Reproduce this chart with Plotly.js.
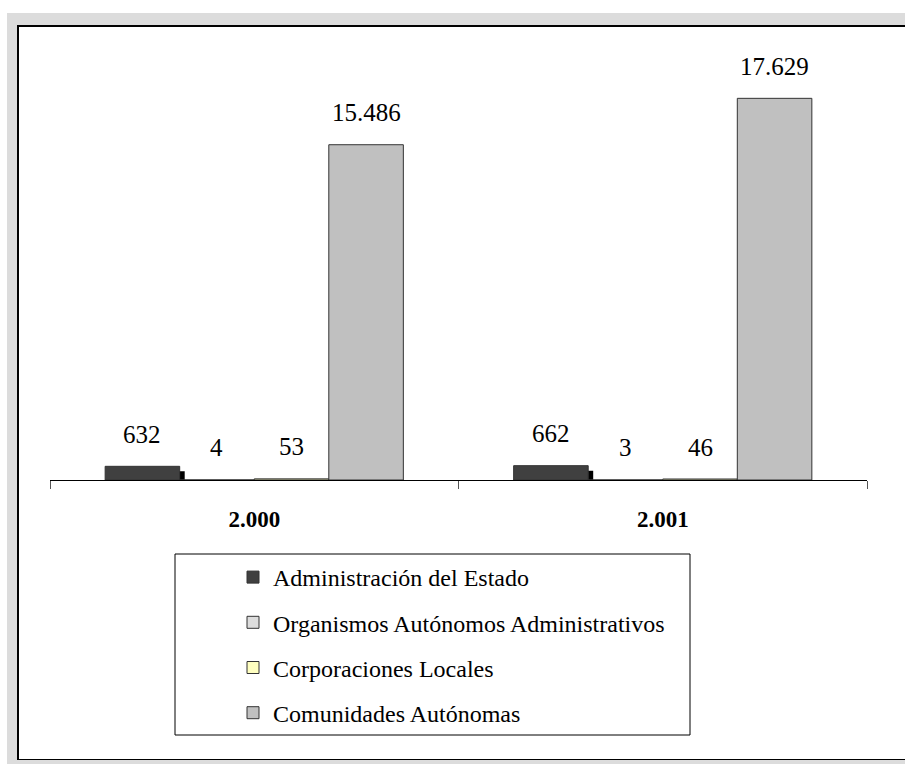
<!DOCTYPE html>
<html>
<head>
<meta charset="utf-8">
<script src="https://cdn.plot.ly/plotly-3.0.1.min.js"></script>
<style>
  html, body { margin: 0; padding: 0; background: #ffffff; overflow: hidden; width: 905px; height: 764px; }
  #frame { position: absolute; left: 7px; top: 13px; width: 898px; height: 751px; background: #dcdcdc; }
  #sheet { position: absolute; left: 17px; top: 25px; width: 888px; height: 735px; background: #ffffff;
           border-top: 2px solid #000; border-left: 2px solid #000; border-bottom: 1px solid #000; box-sizing: border-box; }
  #chart { position: absolute; left: 0; top: 0; width: 905px; height: 764px; }
</style>
</head>
<body>
<div id="frame"></div>
<div id="sheet"></div>
<div id="chart"></div>
<script>
// Years on the category axis
const years = ['2.000', '2.001'];

// Series names and values (one value per year)
const seriesNames = [
  'Administración del Estado',
  'Organismos Autónomos Administrativos',
  'Corporaciones Locales',
  'Comunidades Autónomas'
];
const adminEstado   = [632, 662];
const organismos    = [4, 3];
const corporaciones = [53, 46];
const comunidades   = [15486, 17629];

const seriesValues = [adminEstado, organismos, corporaciones, comunidades];
const seriesColors = ['#404040', '#dddddd', '#ffffc0', '#c0c0c0'];

// Geometry of the plotting area
const W = 905, H = 764;
const M = { l: 50, r: 38, t: 47, b: 284 };
const Y_MAX = 20000;
const BARGAP = 0.27;
const X_RANGE = [-0.5, 1.5];
const PW = W - M.l - M.r, PH = H - M.t - M.b;
const PPX = PW / (X_RANGE[1] - X_RANGE[0]);
const PPY = PH / Y_MAX;
const SHADOW = 5;                                  // drop shadow offset, px
const SLOT = (1 - BARGAP) / seriesValues.length;   // width of one bar, category units
const FIRST = -(1 - BARGAP) / 2;                   // left edge of the first bar

const FONT = 'serif';

// page pixel -> paper coordinate
const px = x => (x - M.l) / PW;
const py = y => (H - M.b - y) / PH;

// Thousands separator with a dot
function fmt(v) {
  return String(v).replace(/\B(?=(\d{3})+(?!\d))/g, '.');
}

const traces = [];

// Drop shadow of the dark series, drawn on a slightly shifted pair of axes underneath
traces.push({
  type: 'bar',
  x: years,
  y: adminEstado,
  xaxis: 'x', yaxis: 'y',
  width: SLOT,
  offset: FIRST,
  marker: { color: '#000000', line: { width: 0 } },
  showlegend: false,
  hoverinfo: 'skip'
});

// The four series
seriesValues.forEach((vals, i) => {
  traces.push({
    type: 'bar',
    name: seriesNames[i],
    x: years,
    y: vals,
    xaxis: 'x2', yaxis: 'y2',
    legendgroup: 'g' + i,
    marker: { color: seriesColors[i], line: { color: '#333333', width: 1 } }
  });
});

// Value labels above every bar
const annotations = [];
seriesValues.forEach((vals, i) => {
  vals.forEach((v, j) => {
    annotations.push({
      xref: 'x2', yref: 'y2',
      x: j, y: v,
      text: fmt(v),
      showarrow: false,
      xanchor: 'center', yanchor: 'middle',
      xshift: (FIRST + SLOT * (i + 0.5)) * PPX,
      yshift: 32,
      font: { family: FONT, size: 25, color: '#000000' }
    });
  });
});

const layout = {
  width: W, height: H,
  margin: M,
  paper_bgcolor: 'rgba(0,0,0,0)',
  plot_bgcolor: 'rgba(0,0,0,0)',
  barmode: 'group',
  bargap: BARGAP,
  bargroupgap: 0,
  font: { family: FONT, color: '#000000' },
  // shadow axes: the visible axes shifted right and down by SHADOW px
  xaxis: {
    type: 'category',
    range: [X_RANGE[0] - SHADOW / PPX, X_RANGE[1] - SHADOW / PPX],
    visible: false, fixedrange: true
  },
  yaxis: {
    range: [SHADOW / PPY, Y_MAX + SHADOW / PPY],
    visible: false, fixedrange: true
  },
  xaxis2: {
    type: 'category',
    overlaying: 'x', anchor: 'y2', side: 'bottom',
    range: X_RANGE,
    showline: true, linecolor: '#000000', linewidth: 1,
    ticks: 'outside', tickson: 'boundaries', ticklen: 8, tickcolor: '#555555', tickwidth: 1,
    ticklabelstandoff: 18,
    showgrid: false, zeroline: false,
    tickfont: { family: FONT, size: 23, weight: 'bold', color: '#000000' },
    fixedrange: true
  },
  yaxis2: {
    overlaying: 'y', anchor: 'x2',
    range: [0, Y_MAX],
    visible: false, showgrid: false, zeroline: false, fixedrange: true
  },
  // legend frame
  shapes: [{
    type: 'rect', xref: 'paper', yref: 'paper',
    x0: px(175), x1: px(690), y0: py(554), y1: py(735),
    line: { color: '#000000', width: 1 }, fillcolor: '#ffffff', layer: 'below'
  }],
  showlegend: true,
  legend: {
    x: px(233),
    y: py(555),
    xanchor: 'left', yanchor: 'top',
    bgcolor: 'rgba(0,0,0,0)',
    borderwidth: 0,
    tracegroupgap: 11,
    traceorder: 'grouped',
    font: { family: FONT, size: 24, color: '#000000' }
  },
  annotations: annotations
};

Plotly.newPlot('chart', traces, layout, { displayModeBar: false, staticPlot: true });
</script>
</body>
</html>
